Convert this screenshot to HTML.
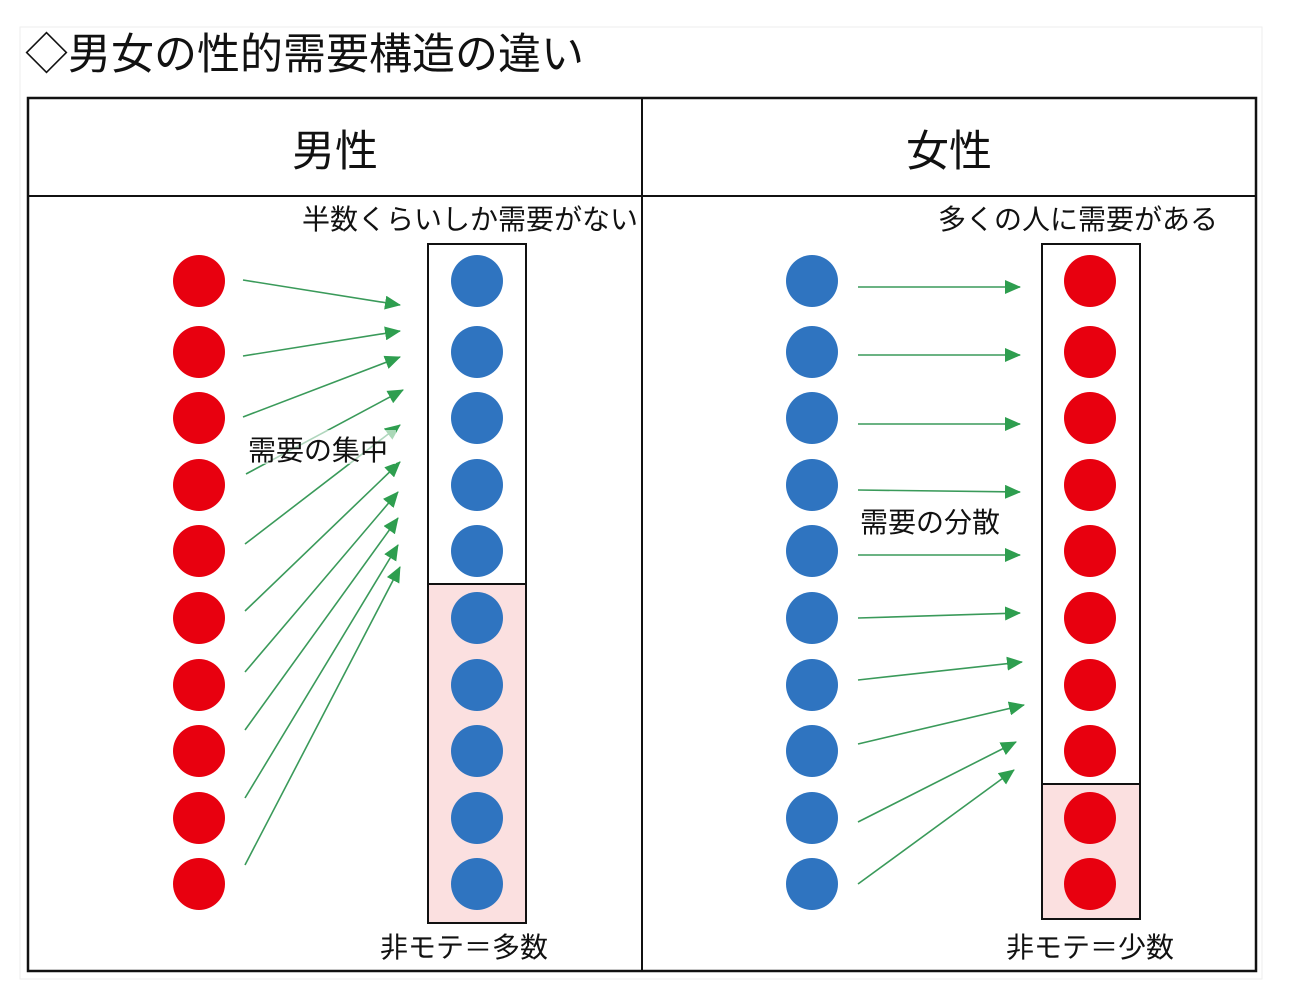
<!DOCTYPE html>
<html><head><meta charset="utf-8"><style>
html,body{margin:0;padding:0;background:#fff;}
svg{display:block}
text{font-family:"Liberation Sans","Noto Sans CJK JP",sans-serif;fill:#111}
</style></head><body>
<svg width="1290" height="988" viewBox="0 0 1290 988" xmlns="http://www.w3.org/2000/svg">
<defs>
<marker id="a" markerWidth="16" markerHeight="14" refX="15" refY="7" orient="auto" markerUnits="userSpaceOnUse" viewBox="0 0 16 14">
<path d="M0,0 L16,7 L0,14 z" fill="#2e9e4f"/></marker>
</defs>
<rect x="0" y="0" width="1290" height="988" fill="#fff"/>
<rect x="20" y="27" width="1242" height="952" fill="none" stroke="#eee" stroke-width="1"/>
<text x="25" y="69" font-size="43">◇男女の性的需要構造の違い</text>
<rect x="28" y="98" width="1228" height="873" fill="none" stroke="#111" stroke-width="2.5"/>
<line x1="642" y1="98" x2="642" y2="971" stroke="#111" stroke-width="2"/>
<line x1="28" y1="196" x2="1256" y2="196" stroke="#111" stroke-width="2"/>
<text x="335" y="166" font-size="43" text-anchor="middle">男性</text>
<text x="949" y="166" font-size="43" text-anchor="middle">女性</text>
<text x="302" y="229" font-size="28">半数くらいしか需要がない</text>
<text x="938" y="229" font-size="28">多くの人に需要がある</text>
<rect x="428" y="584" width="98" height="339" fill="#fbe0e0"/>
<rect x="428" y="244" width="98" height="679" fill="none" stroke="#111" stroke-width="2"/>
<line x1="428" y1="584" x2="526" y2="584" stroke="#111" stroke-width="2"/>
<rect x="1042" y="784" width="98" height="135" fill="#fbe0e0"/>
<rect x="1042" y="244" width="98" height="675" fill="none" stroke="#111" stroke-width="2"/>
<line x1="1042" y1="784" x2="1140" y2="784" stroke="#111" stroke-width="2"/>
<g>
<g fill="#e8000f">
<circle cx="199" cy="281" r="26"/><circle cx="199" cy="352" r="26"/><circle cx="199" cy="418" r="26"/><circle cx="199" cy="485" r="26"/><circle cx="199" cy="551" r="26"/><circle cx="199" cy="618" r="26"/><circle cx="199" cy="685" r="26"/><circle cx="199" cy="751" r="26"/><circle cx="199" cy="818" r="26"/><circle cx="199" cy="884" r="26"/>
<circle cx="1090" cy="281" r="26"/><circle cx="1090" cy="352" r="26"/><circle cx="1090" cy="418" r="26"/><circle cx="1090" cy="485" r="26"/><circle cx="1090" cy="551" r="26"/><circle cx="1090" cy="618" r="26"/><circle cx="1090" cy="685" r="26"/><circle cx="1090" cy="751" r="26"/><circle cx="1090" cy="818" r="26"/><circle cx="1090" cy="884" r="26"/>
</g>
<g fill="#2f74c0">
<circle cx="477" cy="281" r="26"/><circle cx="477" cy="352" r="26"/><circle cx="477" cy="418" r="26"/><circle cx="477" cy="485" r="26"/><circle cx="477" cy="551" r="26"/><circle cx="477" cy="618" r="26"/><circle cx="477" cy="685" r="26"/><circle cx="477" cy="751" r="26"/><circle cx="477" cy="818" r="26"/><circle cx="477" cy="884" r="26"/>
<circle cx="812" cy="281" r="26"/><circle cx="812" cy="352" r="26"/><circle cx="812" cy="418" r="26"/><circle cx="812" cy="485" r="26"/><circle cx="812" cy="551" r="26"/><circle cx="812" cy="618" r="26"/><circle cx="812" cy="685" r="26"/><circle cx="812" cy="751" r="26"/><circle cx="812" cy="818" r="26"/><circle cx="812" cy="884" r="26"/>
</g>
</g>
<g stroke="#3a9a5a" stroke-width="1.6" marker-end="url(#a)">
<line x1="243" y1="280" x2="400" y2="305"/>
<line x1="243" y1="356" x2="400" y2="331"/>
<line x1="243" y1="417" x2="400" y2="357"/>
<line x1="246" y1="474" x2="403" y2="390"/>
<line x1="245" y1="544" x2="400" y2="425"/>
<line x1="245" y1="611" x2="400" y2="462"/>
<line x1="245" y1="672" x2="398" y2="492"/>
<line x1="245" y1="730" x2="398" y2="518"/>
<line x1="245" y1="798" x2="398" y2="545"/>
<line x1="245" y1="865" x2="400" y2="567"/>
</g>
<g stroke="#3a9a5a" stroke-width="1.6" marker-end="url(#a)">
<line x1="858" y1="287" x2="1020" y2="287"/>
<line x1="858" y1="355" x2="1020" y2="355"/>
<line x1="858" y1="424" x2="1020" y2="424"/>
<line x1="858" y1="490" x2="1020" y2="492"/>
<line x1="858" y1="555" x2="1020" y2="555"/>
<line x1="858" y1="618" x2="1020" y2="613"/>
<line x1="858" y1="680" x2="1022" y2="662"/>
<line x1="858" y1="744" x2="1024" y2="705"/>
<line x1="858" y1="822" x2="1016" y2="742"/>
<line x1="858" y1="884" x2="1014" y2="770"/>
</g>
<rect x="246" y="430" width="150" height="34" fill="#fff" opacity="0.6"/>
<text x="248" y="460" font-size="28">需要の集中</text>
<rect x="858" y="504" width="150" height="34" fill="#fff" opacity="0.6"/>
<text x="860" y="532" font-size="28">需要の分散</text>
<text x="380" y="957" font-size="28">非モテ＝多数</text>
<text x="1006" y="957" font-size="28">非モテ＝少数</text>
</svg>
</body></html>
